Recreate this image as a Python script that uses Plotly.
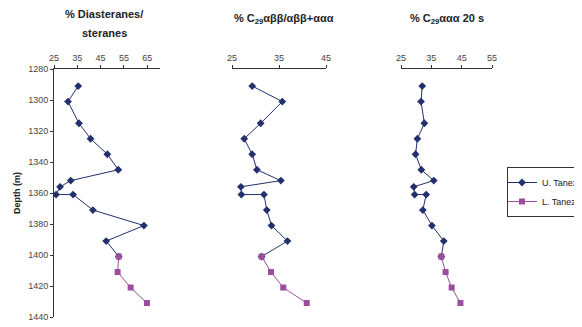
import plotly.graph_objects as go

# Depths (m)
depth_u = [1291, 1301, 1315, 1325, 1335, 1345, 1352, 1356, 1361, 1361, 1371, 1381, 1391, 1401]
depth_l = [1401, 1411, 1421, 1431]

# % Diasteranes/steranes
dia_u = [35.4, 31.0, 35.7, 40.7, 47.9, 52.6, 32.2, 27.6, 25.9, 33.2, 41.7, 63.6, 47.4, 52.8]
dia_l = [52.8, 52.3, 57.9, 64.9]

# % C29 abb/(abb+aaa)
abb_u = [29.3, 35.7, 31.1, 27.6, 29.3, 30.3, 35.4, 26.9, 27.0, 31.8, 32.4, 33.4, 36.8, 31.3]
abb_l = [31.3, 33.3, 35.9, 40.9]

# % C29 aaa 20 S
s20_u = [32.0, 31.6, 32.7, 30.4, 29.8, 31.7, 35.8, 29.2, 29.5, 33.3, 32.2, 35.2, 39.1, 38.3]
s20_l = [38.3, 39.7, 41.7, 44.6]

series_names = ["U. Tanezzuft", "L. Tanezzuft"]
titles = ["<b>% Diasteranes/</b>", "<b>steranes</b>",
          "<b>% C<sub>29</sub>αββ/αββ+ααα</b>", "<b>% C<sub>29</sub>ααα 20 s</b>"]

NAVY = "#23306e"
PURP = "#9b4e9e"
W, H = 582, 327
OFF = 8  # page body margin offset

fig = go.Figure()
panels = [(dia_u, dia_l, "x"), (abb_u, abb_l, "x2"), (s20_u, s20_l, "x3")]
for i, (u, l, xa) in enumerate(panels):
    fig.add_trace(go.Scatter(x=u, y=depth_u, xaxis=xa, yaxis="y", mode="lines+markers",
                             name=series_names[0], showlegend=(i == 0),
                             line=dict(color=NAVY, width=1),
                             marker=dict(symbol="diamond", size=6, color=NAVY)))
    fig.add_trace(go.Scatter(x=l, y=depth_l, xaxis=xa, yaxis="y", mode="lines+markers",
                             name=series_names[1], showlegend=(i == 0),
                             line=dict(color=PURP, width=1),
                             marker=dict(symbol="square", size=6, color=PURP)))

def px(v):
    return (v - OFF) / W

def py(v):
    return 1 - (v - OFF) / H

tickfont = dict(family="Liberation Sans, Arial", size=9, color="#444444")
xcommon = dict(side="top", showgrid=False, zeroline=False, showline=True, linecolor="#333",
               linewidth=1, ticks="outside", ticklen=3, tickcolor="#333", tickfont=tickfont,
               anchor="y", fixedrange=True, automargin=False)

fig.update_layout(
    width=W, height=H, margin=dict(l=0, r=0, t=0, b=0, autoexpand=False),
    paper_bgcolor="white", plot_bgcolor="white",
    font=dict(family="Liberation Sans, Arial", color="#222"),
    xaxis=dict(domain=[px(54), px(160)], range=[25, 70.5], tickvals=[25, 35, 45, 55, 65], **xcommon),
    xaxis2=dict(domain=[px(232), px(326)], range=[25, 45], tickvals=[25, 35, 45], **xcommon),
    xaxis3=dict(domain=[px(401), px(492)], range=[25, 55], tickvals=[25, 35, 45, 55], **xcommon),
    yaxis=dict(domain=[py(317), py(69)], range=[1440, 1280], tickvals=list(range(1280, 1441, 20)),
               showgrid=False, zeroline=False, showline=True, linecolor="#333", linewidth=1,
               ticks="outside", ticklen=3, tickcolor="#333", tickfont=tickfont, anchor="x",
               automargin=False,
               title=dict(text="<b>Depth (m)</b>", font=dict(size=9, color="#222"), standoff=6),
               fixedrange=True),
    legend=dict(x=px(507), y=py(167), xanchor="left", yanchor="top",
                bordercolor="#333", borderwidth=1, bgcolor="white",
                font=dict(size=9, color="#222"), itemwidth=30, tracegroupgap=0,
                indentation=-6),
    showlegend=True,
)

title_pos = [(104, 14), (104, 33), (284, 19), (447, 19)]
for t, (x, y) in zip(titles, title_pos):
    fig.add_annotation(text=t, x=px(x), y=py(y), xref="paper", yref="paper",
                       showarrow=False, font=dict(size=11, color="#222"),
                       xanchor="center", yanchor="middle")

fig.write_html("out.html")
